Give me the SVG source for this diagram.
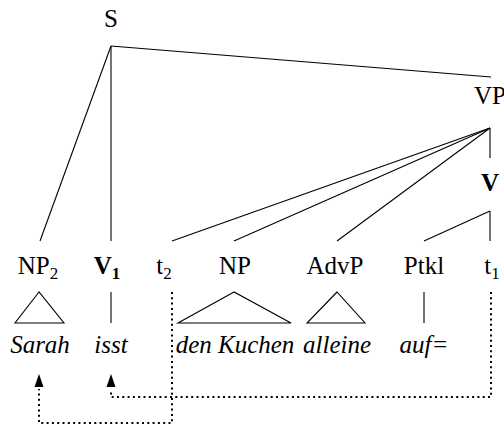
<svg xmlns="http://www.w3.org/2000/svg" width="504" height="428" viewBox="0 0 504 428">
<style>
.t{font-family:'Liberation Serif',serif;font-size:25px;fill:#000;text-anchor:middle}
.w{font-style:italic}
.b{font-weight:bold}
.sub{font-size:17px}
.e{stroke:#000;stroke-width:1.1;fill:none}
.d{stroke:#000;stroke-width:2;fill:none;stroke-dasharray:2 3.3}
</style>
<rect width="504" height="428" fill="#fff"/>
<g id="connectors">
<path class="e" d="M111,46 L491,77"/>
<path class="e" d="M111,46 L40,241"/>
<path class="e" d="M111,46 L111,241"/>
<path class="e" d="M490,128 L490,158"/>
<path class="e" d="M490,128 L172,241"/>
<path class="e" d="M490,128 L234,241"/>
<path class="e" d="M490,128 L337,241"/>
<path class="e" d="M490,211 L424,241"/>
<path class="e" d="M490,211 L490,241"/>
<path class="e" d="M39,292 L15,323 L64,323 Z"/>
<path class="e" d="M111,292 L111,323"/>
<path class="e" d="M234,292 L178,323 L291,323 Z"/>
<path class="e" d="M337,292 L307,323 L365,323 Z"/>
<path class="e" d="M424,292 L424,323"/>
<path class="d" d="M172,292 L172,423 L39,423 L39,389"/>
<path class="d" d="M491,292 L491,397 L111,397 L111,389"/>
<path d="M39,374 L34.5,387 L43.5,387 Z" fill="#000"/>
<path d="M111,374 L106.5,387 L115.5,387 Z" fill="#000"/>
</g>
<g id="S"><text class="t" x="111" y="27">S</text></g>
<g id="VP"><text class="t" x="490" y="104">VP</text></g>
<g id="V"><text class="t b" x="490" y="191">V</text></g>
<g id="NP2"><text class="t" x="38" y="274">NP<tspan class="sub" dy="5">2</tspan></text></g>
<g id="V1"><text class="t b" x="107" y="274">V<tspan class="sub" dy="5">1</tspan></text></g>
<g id="t2"><text class="t" x="164" y="274">t<tspan class="sub" dy="5">2</tspan></text></g>
<g id="NP"><text class="t" x="235" y="274">NP</text></g>
<g id="AdvP"><text class="t" x="335" y="274">AdvP</text></g>
<g id="Ptkl"><text class="t" x="424" y="274">Ptkl</text></g>
<g id="t1"><text class="t" x="492" y="274">t<tspan class="sub" dy="5">1</tspan></text></g>
<g id="Sarah"><text class="t w" x="40" y="353">Sarah</text></g>
<g id="isst"><text class="t w" x="111" y="353">isst</text></g>
<g id="denKuchen"><text class="t w" x="235" y="353">den Kuchen</text></g>
<g id="alleine"><text class="t w" x="337" y="353">alleine</text></g>
<g id="auf"><text class="t w" x="424" y="353">auf=</text></g>
</svg>
